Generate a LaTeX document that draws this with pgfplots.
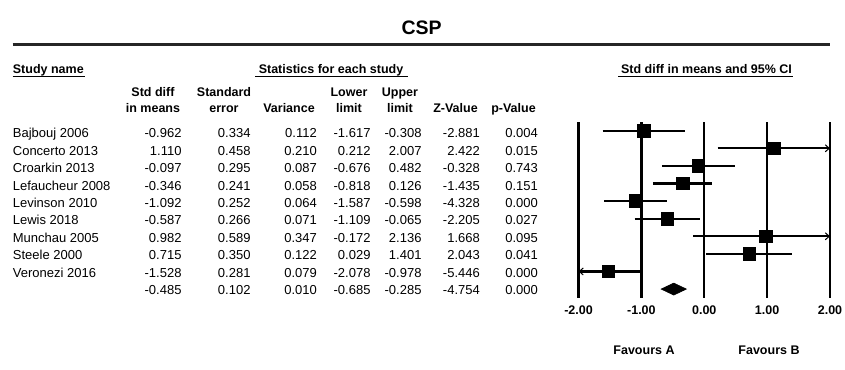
\documentclass[border=0pt]{standalone}
\usepackage{pgfplots}
\pgfplotsset{compat=1.18}
\usepackage{fontspec}
\setmainfont{Liberation Sans}
\usetikzlibrary{arrows.meta}

\newcommand\dfont{\fontsize{13bp}{15bp}\selectfont}
\newcommand\hfont{\fontsize{12.5bp}{15bp}\selectfont\bfseries}

% row index, name, 7 statistics
\newcommand\drow[9]{%
  \pgfmathsetmacro\yb{232-(#1-1)*17.4}%
  \node[anchor=base west,font=\dfont] at (12.7bp,\yb bp) {#2};
  \node[anchor=base east,font=\dfont] at (181.7bp,\yb bp) {#3};
  \node[anchor=base east,font=\dfont] at (250.7bp,\yb bp) {#4};
  \node[anchor=base east,font=\dfont] at (317bp,\yb bp) {#5};
  \node[anchor=base east,font=\dfont] at (370.7bp,\yb bp) {#6};
  \node[anchor=base east,font=\dfont] at (421.7bp,\yb bp) {#7};
  \node[anchor=base east,font=\dfont] at (480bp,\yb bp) {#8};
  \node[anchor=base east,font=\dfont] at (538bp,\yb bp) {#9};
}

\begin{document}
\begin{tikzpicture}[inner sep=0pt]
\path[use as bounding box] (0,0) rectangle (845bp,370bp);

% title and rule
\node[anchor=base,font=\fontsize{19.5bp}{22bp}\selectfont\bfseries] at (421.7bp,335bp) {CSP};
\draw[line width=3.3bp,black!85] (12.5bp,325.5bp) -- (830bp,325.5bp);

% group headers
\node[anchor=base west,font=\hfont] at (12.7bp,296.3bp) {Study name};
\draw[line width=1.3bp] (12.7bp,293.3bp) -- (85bp,293.3bp);
\node[anchor=base,font=\hfont] at (331bp,296.3bp) {Statistics for each study};
\draw[line width=1.3bp] (255bp,293.3bp) -- (408bp,293.3bp);
\node[anchor=base,font=\hfont] at (706.5bp,296.3bp) {Std diff in means and 95\% CI};
\draw[line width=1.3bp] (618bp,293.3bp) -- (793bp,293.3bp);

% column headers
\node[anchor=base,font=\hfont] at (153bp,273.3bp) {Std diff};
\node[anchor=base,font=\hfont] at (153bp,257.7bp) {in means};
\node[anchor=base,font=\hfont] at (224bp,273.3bp) {Standard};
\node[anchor=base,font=\hfont] at (224bp,257.7bp) {error};
\node[anchor=base,font=\hfont] at (289bp,257.7bp) {Variance};
\node[anchor=base,font=\hfont] at (349bp,273.3bp) {Lower};
\node[anchor=base,font=\hfont] at (349bp,257.7bp) {limit};
\node[anchor=base,font=\hfont] at (400bp,273.3bp) {Upper};
\node[anchor=base,font=\hfont] at (400bp,257.7bp) {limit};
\node[anchor=base,font=\hfont] at (455.5bp,257.7bp) {Z-Value};
\node[anchor=base,font=\hfont] at (513.5bp,257.7bp) {p-Value};

% table rows
\drow{1}{Bajbouj 2006}{-0.962}{0.334}{0.112}{-1.617}{-0.308}{-2.881}{0.004}
\drow{2}{Concerto 2013}{1.110}{0.458}{0.210}{0.212}{2.007}{2.422}{0.015}
\drow{3}{Croarkin 2013}{-0.097}{0.295}{0.087}{-0.676}{0.482}{-0.328}{0.743}
\drow{4}{Lefaucheur 2008}{-0.346}{0.241}{0.058}{-0.818}{0.126}{-1.435}{0.151}
\drow{5}{Levinson 2010}{-1.092}{0.252}{0.064}{-1.587}{-0.598}{-4.328}{0.000}
\drow{6}{Lewis 2018}{-0.587}{0.266}{0.071}{-1.109}{-0.065}{-2.205}{0.027}
\drow{7}{Munchau 2005}{0.982}{0.589}{0.347}{-0.172}{2.136}{1.668}{0.095}
\drow{8}{Steele 2000}{0.715}{0.350}{0.122}{0.029}{1.401}{2.043}{0.041}
\drow{9}{Veronezi 2016}{-1.528}{0.281}{0.079}{-2.078}{-0.978}{-5.446}{0.000}
\drow{10}{}{-0.485}{0.102}{0.010}{-0.685}{-0.285}{-4.754}{0.000}

\begin{axis}[
  at={(578.5bp,72.3bp)}, anchor=south west,
  scale only axis, width=251.5bp, height=176bp,
  xmin=-2, xmax=2, ymin=-10.49, ymax=-0.49,
  axis line style={draw=none},
  xtick={-2,-1,0,1,2},
  xticklabels={-2.00,-1.00,0.00,1.00,2.00},
  ytick=\empty,
  major tick length=0pt,
  xmajorgrids,
  major grid style={black, line width=2.4bp},
  xticklabel style={font=\hfont, anchor=base, yshift=-17.3bp},
  clip=false,
]
% confidence intervals
\addplot[black, line width=2.2bp] coordinates {(-1.617,-1) (-0.308,-1)};
\addplot[black, line width=2.2bp, -{Straight Barb[length=4bp,width=7bp,line width=1bp]}] coordinates {(0.212,-2) (2.0,-2)};
\addplot[black, line width=2.2bp] coordinates {(-0.676,-3) (0.482,-3)};
\addplot[black, line width=2.2bp] coordinates {(-0.818,-4) (0.126,-4)};
\addplot[black, line width=2.2bp] coordinates {(-1.587,-5) (-0.598,-5)};
\addplot[black, line width=2.2bp] coordinates {(-1.109,-6) (-0.065,-6)};
\addplot[black, line width=2.2bp, -{Straight Barb[length=4bp,width=7bp,line width=1bp]}] coordinates {(-0.172,-7) (2.0,-7)};
\addplot[black, line width=2.2bp] coordinates {(0.029,-8) (1.401,-8)};
\addplot[black, line width=2.2bp, -{Straight Barb[length=4bp,width=7bp,line width=1bp]}] coordinates {(-0.978,-9) (-2.0,-9)};
% point estimates
\addplot[only marks, mark=square*, mark size=6.3bp, black, mark options={line width=0.6bp}] coordinates {
  (-0.962,-1) (1.110,-2) (-0.097,-3) (-0.346,-4) (-1.092,-5)
  (-0.587,-6) (0.982,-7) (0.715,-8) (-1.528,-9)};
% summary diamond
\addplot[black, fill=black, line width=0.6bp] coordinates {
  (-0.685,-10) (-0.485,-9.66) (-0.285,-10) (-0.485,-10.34)} --cycle;
\end{axis}

\node[anchor=base,font=\hfont] at (644bp,15.3bp) {Favours A};
\node[anchor=base,font=\hfont] at (769bp,15.3bp) {Favours B};
\end{tikzpicture}
\end{document}
